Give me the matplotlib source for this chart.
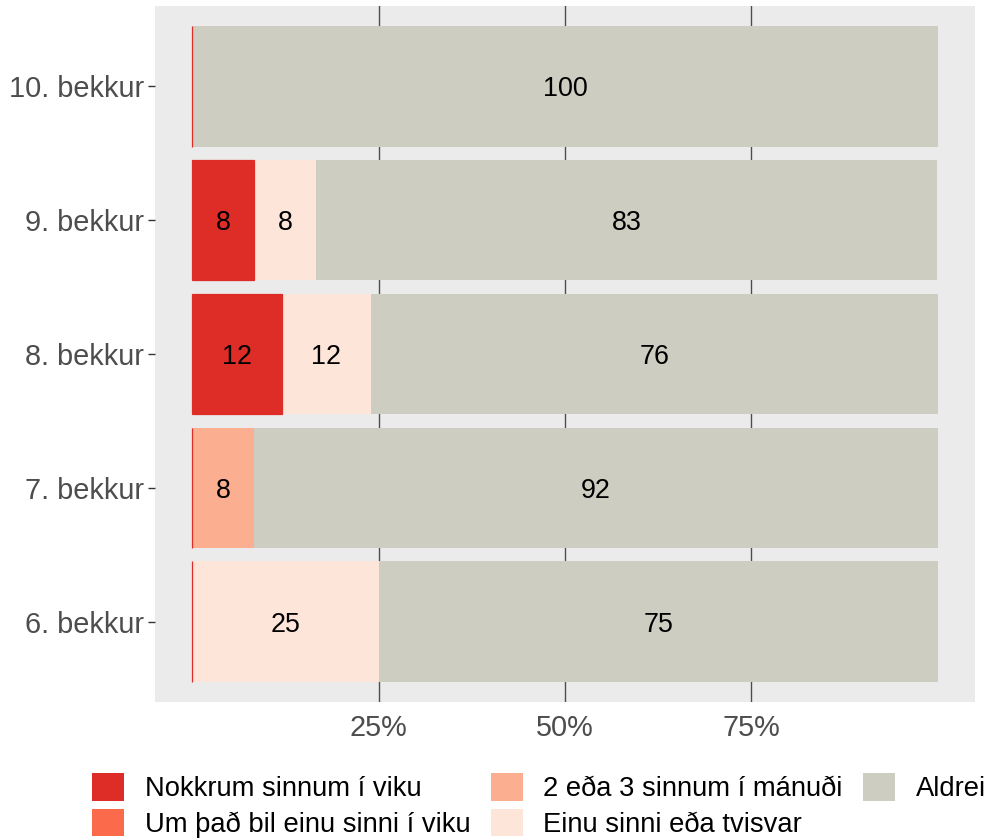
import numpy as np
import matplotlib.pyplot as plt
from matplotlib.patches import Patch

plt.rcParams['font.family'] = ['Liberation Sans', 'DejaVu Sans']

# bekkir, neðst til efst
bekkir = ["6. bekkur", "7. bekkur", "8. bekkur", "9. bekkur", "10. bekkur"]
flokkar = ["Nokkrum sinnum í viku", "Um það bil einu sinni í viku",
           "2 eða 3 sinnum í mánuði", "Einu sinni eða tvisvar", "Aldrei"]
litir = ["#DE2D26", "#FB6A4A", "#FCAE91", "#FEE5D9", "#CDCDC1"]

# hlutfall (%) í hverjum flokki fyrir hvern bekk
nokkrum = [0, 0, 12, 8.3, 0]
um_thad_bil = [0, 0, 0, 0, 0]
tvisvar_thrisvar = [0, 8.3, 0, 0, 0]
einu_sinni = [25, 0, 12, 8.3, 0]
aldrei = [75, 91.7, 76, 83.3, 100]

x_ticks = [25, 50, 75]
x_labels = ["25%", "50%", "75%"]

gildi = [nokkrum, um_thad_bil, tvisvar_thrisvar, einu_sinni, aldrei]

fig = plt.figure(figsize=(9.86, 8.38), dpi=100)
ax = fig.add_axes([155 / 986, 1 - 702 / 838, 820 / 986, 696 / 838])
ax.set_facecolor("#EBEBEB")

for x in x_ticks:
    ax.axvline(x, color="#4D4D4D", lw=1.0, zorder=0)

y = np.arange(len(bekkir))
vinstri = np.zeros(len(bekkir))
for i, (flokkur, gogn, litur) in enumerate(zip(flokkar, gildi, litir)):
    gogn = np.array(gogn, dtype=float)
    if i == 0:
        # fyrsti flokkurinn fær útlínu ofan á hinum svo núllstikur sjáist sem lína
        ax.barh(y, gogn, left=vinstri, height=0.9, color=litur,
                edgecolor=litur, linewidth=0.9, zorder=2.5)
    else:
        ax.barh(y, gogn, left=vinstri, height=0.9, color=litur,
                linewidth=0, zorder=2)
    for yy, v, l in zip(y, gogn, vinstri):
        if v > 0:
            ax.text(l + v / 2, yy, f"{v:.0f}", ha="center",
                    va="center_baseline", fontsize=19.4, color="black",
                    zorder=3)
    vinstri += gogn

ax.set_xlim(-5, 105)
ax.set_ylim(-0.6, len(bekkir) - 0.4)
ax.set_xticks(x_ticks)
ax.set_xticklabels(x_labels)
ax.set_yticks(y)
ax.set_yticklabels(bekkir)
ax.tick_params(axis="x", length=0, pad=9, labelsize=20.8, labelcolor="#4D4D4D")
ax.tick_params(axis="y", length=5, width=1, color="#333333", pad=3,
               labelsize=20.8, labelcolor="#4D4D4D")
for s in ax.spines.values():
    s.set_visible(False)

handles = [Patch(facecolor=c, edgecolor="none") for c in litir]
fig.legend(handles, flokkar, ncol=3, loc="upper left",
           bbox_to_anchor=(92 / 986, 1 - 773 / 838), frameon=False,
           fontsize=19.7, handlelength=1.17, handleheight=1.17,
           handletextpad=0.75, columnspacing=0.75, labelspacing=0.24,
           borderpad=0, borderaxespad=0)

fig.savefig("out.png", dpi=100)
